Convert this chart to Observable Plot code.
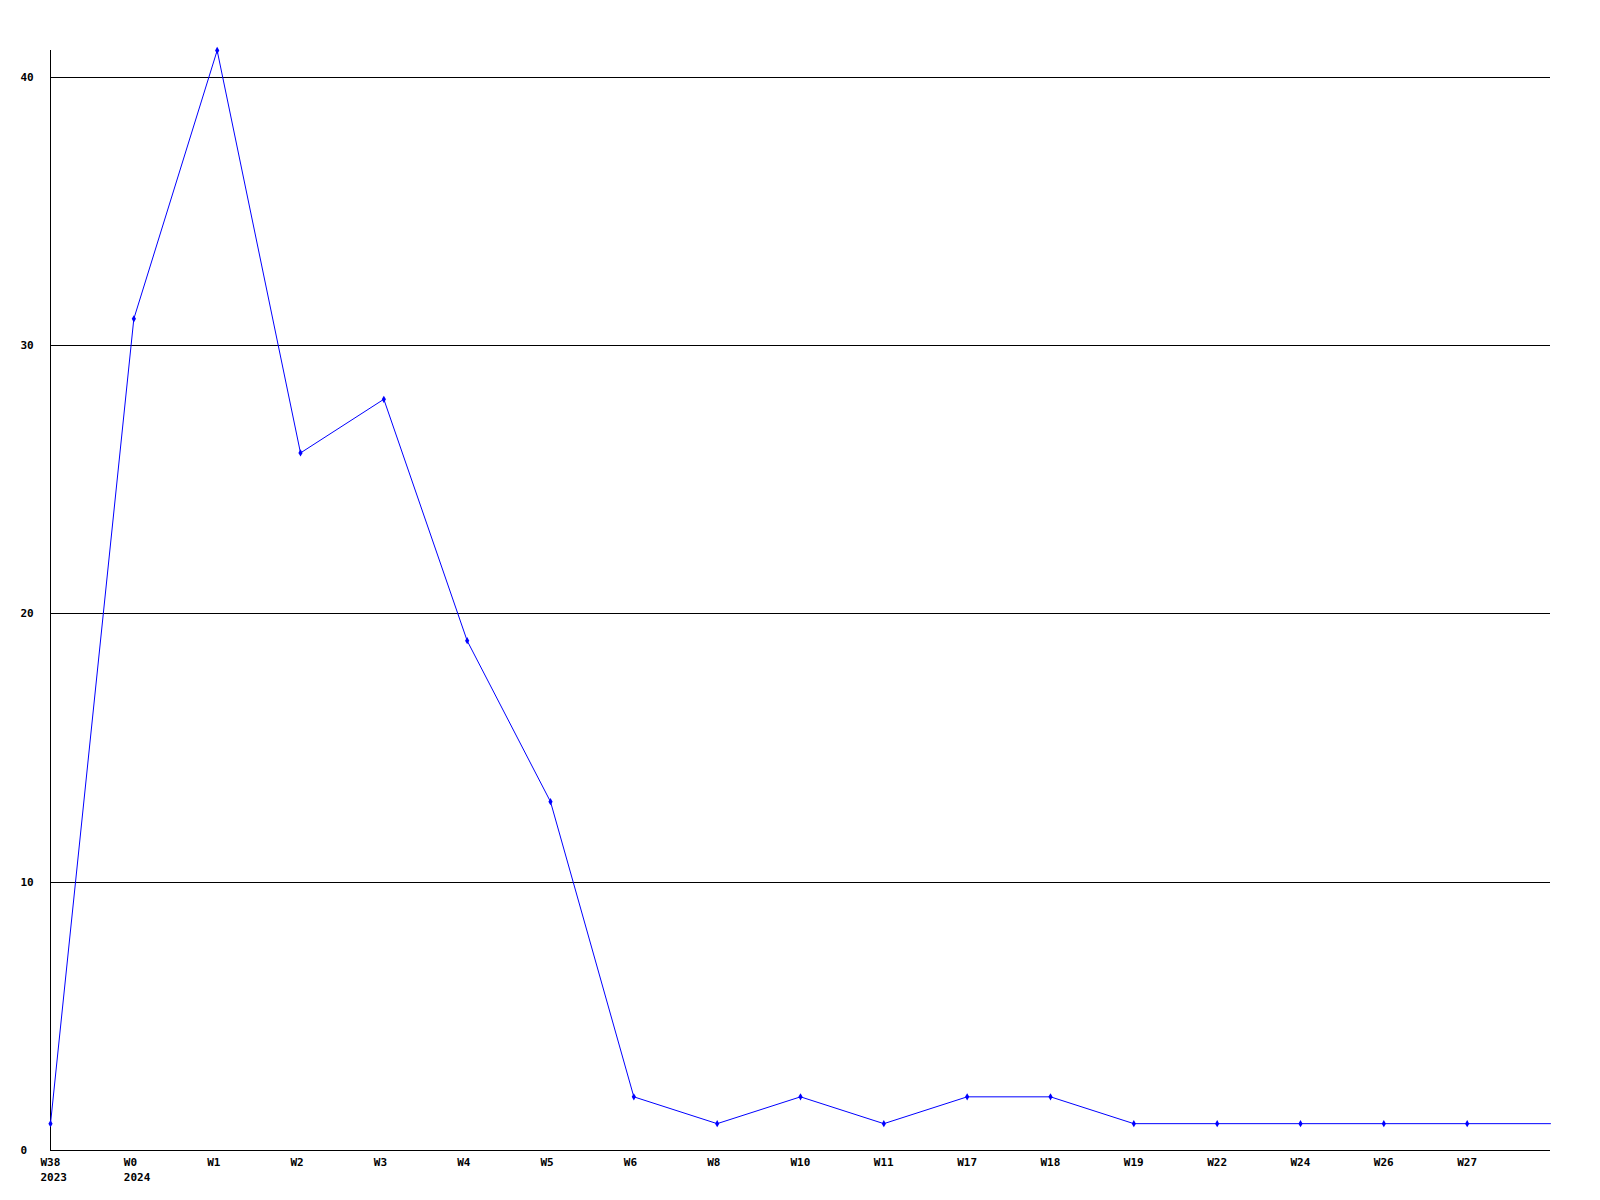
<!DOCTYPE html>
<html>
<head>
<meta charset="utf-8">
<script src="https://cdn.jsdelivr.net/npm/d3@7"></script>
<script src="https://cdn.jsdelivr.net/npm/@observablehq/plot@0.6"></script>
<style>
  html, body { margin: 0; padding: 0; background: #fff; }
  #chart svg { display: block; }
</style>
</head>
<body>
<div id="chart"></div>
<script>
const weeks = ["W38","W0","W1","W2","W3","W4","W5","W6","W8","W10","W11","W17","W18","W19","W22","W24","W26","W27",""];
const years = ["2023","2024","","","","","","","","","","","","","","","","",""];
const values = [1,31,41,26,28,19,13,2,1,2,1,2,2,1,1,1,1,1,1];
const yTicks = [0,10,20,30,40];
const gridValues = [10,20,30,40];

const data = values.map((v, i) => ({i, v}));
const marked = data.slice(0, 18);

const chart = Plot.plot({
  width: 1600,
  height: 1200,
  marginLeft: 50,
  marginRight: 50,
  marginTop: 50,
  marginBottom: 50,
  style: {fontFamily: "'DejaVu Sans Mono', monospace", fontSize: "11px", fontWeight: "bold", background: "#fff", color: "#000"},
  x: {domain: [0, 18], axis: null, label: null},
  y: {domain: [0, 41], axis: null, label: null},
  marks: [
    Plot.ruleY(gridValues, {stroke: "#000", strokeWidth: 1, shapeRendering: "crispEdges"}),
    Plot.ruleY([0], {stroke: "#000", strokeWidth: 1, shapeRendering: "crispEdges"}),
    Plot.ruleX([0], {y1: 0, y2: 41, stroke: "#000", strokeWidth: 1, shapeRendering: "crispEdges"}),
    Plot.axisY({ticks: yTicks, label: null, tickSize: 0, tickPadding: 30, textAnchor: "start", fontWeight: "bold", fill: "#000"}),
    Plot.axisX({ticks: d3.range(0, 18), label: null, tickSize: 0, tickPadding: 5, tickFormat: i => (years[i] ? weeks[i] + "\n" + years[i] : weeks[i]), textAnchor: "start", dx: -10, lineHeight: 1.35, fontWeight: "bold", fill: "#000"}),
    Plot.line(data, {x: "i", y: "v", stroke: "#0000ff", strokeWidth: 1}),
    Plot.dot(marked, {x: "i", y: "v", symbol: "diamond", r: 2.2, fill: "#0000ff", stroke: "none"})
  ]
});
document.getElementById("chart").appendChild(chart);
</script>
</body>
</html>
